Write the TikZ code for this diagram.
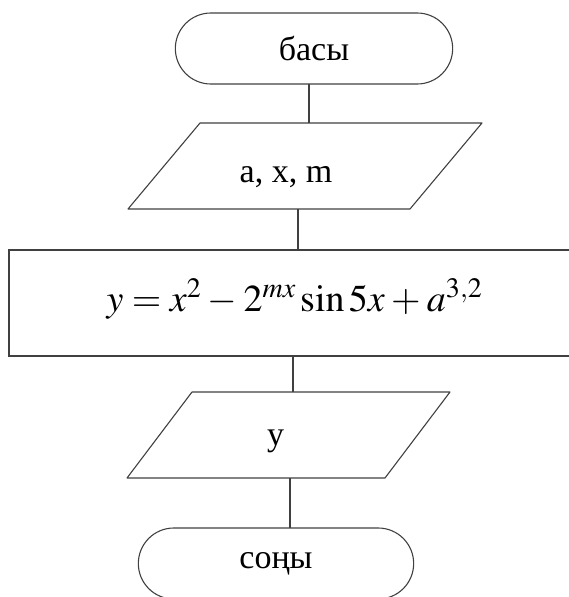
\documentclass[tikz,border=0pt]{standalone}
\usepackage{mathptmx}
\usepackage{fontspec}
\setmainfont{Liberation Serif}
\usepackage{tikz}
\usetikzlibrary{positioning,shapes.misc}

\begin{document}
\begin{tikzpicture}[
  x=1pt, y=1pt,
  term/.style={rounded rectangle, draw=black!75, line width=1.1pt,
               minimum width=284pt, minimum height=71pt, outer sep=0pt,
               font=\fontsize{34}{40}\selectfont},
  io/.style={rectangle, minimum height=86pt, outer sep=0pt,
             font=\fontsize{34}{40}\selectfont},
  proc/.style={rectangle, draw=black!75, line width=1.1pt,
               minimum width=571pt, minimum height=106pt, outer sep=0pt,
               font=\fontsize{38}{44}\selectfont},
  conn/.style={draw=black!75, line width=1.1pt},
]
\useasboundingbox (0,0) rectangle (569,-597);
\clip (0,0) rectangle (569,-597);

% begin
\node[term] (start) at (314,-48.5) {басы};

% input
\node[io, minimum width=354pt, below=39pt of start, xshift=-9pt] (in1)
  {\raisebox{-11pt}[\height][\depth]{\hspace*{-38pt}a, x, m}};
\draw[conn, line join=round] ([xshift=72pt]in1.north west) -- (in1.north east)
  -- ([xshift=-72pt]in1.south east) -- (in1.south west) -- cycle;

% calculation
\node[proc, below=41pt of in1, xshift=-10.5pt] (calc)
  {\thickmuskip=4mu \medmuskip=3mu
   \raisebox{4pt}[\height][\depth]{$y=x^{2}-2^{mx}\sin 5x+a^{3,2}$}};

% output
\node[io, minimum width=323pt, below=36pt of calc, xshift=-6pt] (out1)
  {\raisebox{-6pt}[\height][\depth]{\hspace*{-26pt}y}};
\draw[conn, line join=round] ([xshift=65pt]out1.north west) -- (out1.north east)
  -- ([xshift=-65pt]out1.south east) -- (out1.south west) -- cycle;

% end
\node[term, minimum width=282pt, below=50pt of out1, xshift=-12.5pt] (stop) {соңы};

% connectors
\draw[conn] ([xshift=-5pt]start.south) -- ([xshift=-5pt]start.south |- in1.north);
\draw[conn] ([xshift=-7pt]in1.south) -- ([xshift=-7pt]in1.south |- calc.north);
\draw[conn] ([xshift=-1.5pt]calc.south) -- ([xshift=-1.5pt]calc.south |- out1.north);
\draw[conn] ([xshift=1.5pt]out1.south) -- ([xshift=1.5pt]out1.south |- stop.north);

\end{tikzpicture}
\end{document}
